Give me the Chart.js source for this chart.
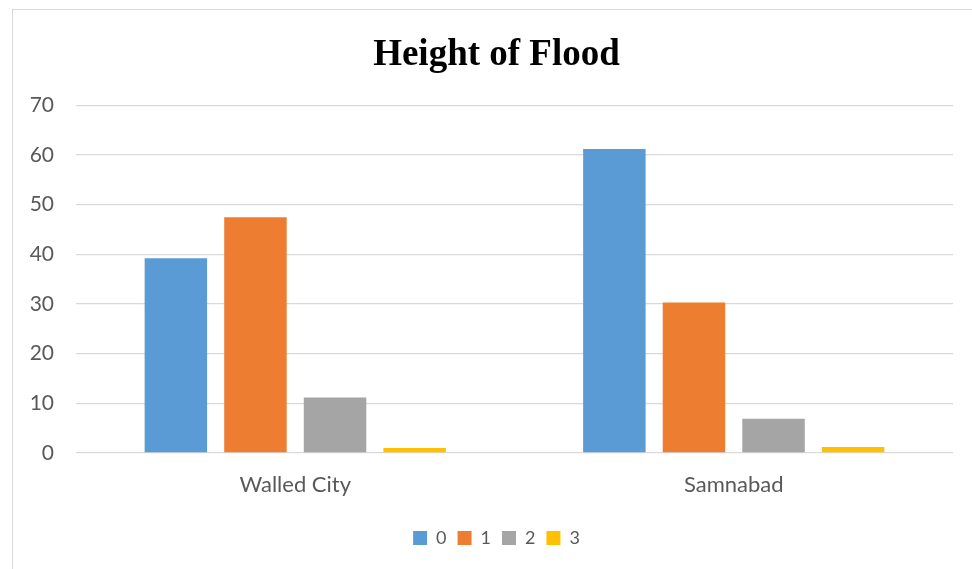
<!DOCTYPE html>
<html>
<head>
<meta charset="utf-8">
<script src="https://cdn.jsdelivr.net/npm/chart.js@4/dist/chart.umd.min.js"></script>
<style>
  html, body { margin: 0; padding: 0; background: #fff; overflow: hidden; width: 972px; height: 569px; }
  #frame { position: absolute; left: 12px; top: 9px; width: 967px; height: 580px; border: 1px solid #d9d9d9; background: #fff; }
  #frame canvas { display: block; }
</style>
</head>
<body>
<div id="frame"><canvas id="chart" width="967" height="580"></canvas></div>
<script>
// Survey areas and the share of respondents for each flood-height level
const categories = ['Walled City', 'Samnabad'];
const levels = ['0', '1', '2', '3'];
const level0 = [39.2, 61.2];
const level1 = [47.5, 30.3];
const level2 = [11.2, 6.9];
const level3 = [1.0, 1.2];
const yTicks = [0, 10, 20, 30, 40, 50, 60, 70];

const colors = ['#5b9bd5', '#ed7d31', '#a5a5a5', '#ffc000'];
const series = [level0, level1, level2, level3];
const textColor = '#595959';
const gridColor = '#d9d9d9';

const datasets = levels.map((name, i) => ({
  label: name,
  data: series[i],
  backgroundColor: colors[i],
  borderWidth: 0,
  categoryPercentage: 0.726,
  barPercentage: 0.785
}));

new Chart(document.getElementById('chart'), {
  type: 'bar',
  data: { labels: categories, datasets },
  options: {
    responsive: false,
    animation: false,
    layout: { padding: { left: 0, right: 0, top: 0, bottom: 33 } },
    plugins: {
      title: {
        display: true,
        text: 'Height of Flood',
        color: '#000',
        font: { family: '"Liberation Serif", "Times New Roman", serif', size: 37, weight: 'bold' },
        padding: { top: 23, bottom: 28 }
      },
      legend: {
        position: 'bottom',
        labels: {
          color: textColor,
          font: { family: 'Lato, sans-serif', size: 18 },
          boxWidth: 14,
          boxHeight: 14,
          padding: 11
        }
      },
      tooltip: { enabled: false }
    },
    scales: {
      x: {
        grid: { display: false },
        border: { display: false },
        ticks: {
          color: textColor,
          font: { family: 'Lato, sans-serif', size: 22 },
          padding: 11
        },
        afterFit(scale) { scale.height = 65; }
      },
      y: {
        min: 0,
        max: 70,
        afterBuildTicks(scale) { scale.ticks = yTicks.map(v => ({ value: v })); },
        grid: { color: gridColor, lineWidth: 1.3, drawTicks: false },
        border: { display: false },
        ticks: {
          color: textColor,
          font: { family: 'Lato, sans-serif', size: 21 },
          padding: 22
        },
        afterFit(scale) { scale.width = 63; }
      },
      // empty right-hand margin beside the plot
      yRight: {
        position: 'right',
        grid: { display: false },
        border: { display: false },
        ticks: { display: false },
        afterFit(scale) { scale.width = 27; }
      }
    }
  }
});
</script>
</body>
</html>
